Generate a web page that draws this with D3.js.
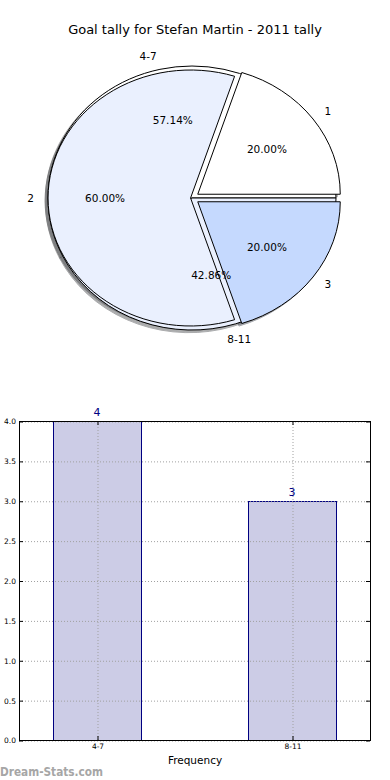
<!DOCTYPE html>
<html>
<head>
<meta charset="utf-8">
<script src="https://cdn.jsdelivr.net/npm/d3@7"></script>
<style>
  body { margin: 0; background: #fff; }
  svg text { font-family: "DejaVu Sans", sans-serif; }
</style>
</head>
<body>
<script>
var w = 390;
var h = 780;

// pie data: outer groups and the tally pie drawn on top
var groupLabels = ["4-7", "8-11"];
var groupValues = [4, 3];
var groupColors = ["#ffffff", "#eaf0fe"];

var tallyLabels = ["1", "2", "3"];
var tallyValues = [1, 3, 1];
var tallyColors = ["#ffffff", "#eaf0fe", "#c5d9fe"];
var tallyExplode = [0.05, 0.01, 0.05];

// bar data
var barCategories = ["4-7", "8-11"];
var barValues = [4, 3];
var yTicks = [0, 0.5, 1, 1.5, 2, 2.5, 3, 3.5, 4];

var svg = d3.select("body")
      .append("svg")
      .attr("width", w)
      .attr("height", h);

svg.append("text")
      .attr("x", 195)
      .attr("y", 34)
      .attr("text-anchor", "middle")
      .attr("font-size", 13)
      .text("Goal tally for Stefan Martin - 2011 tally");

// ---------- pies ----------
var pieLayout = d3.pie()
      .sort(null)
      .startAngle(Math.PI / 2)              // matplotlib starts at 3 o'clock
      .endAngle(Math.PI / 2 - 2 * Math.PI); // and goes counter-clockwise

var unitArc = d3.arc().innerRadius(0).outerRadius(1);

function shadeColor(c) {
      var col = d3.rgb(c);
      return d3.rgb(col.r * 0.3, col.g * 0.3, col.b * 0.3).toString();
}

function makePie(cfg) {
      var arcs = pieLayout(cfg.values);
      var total = d3.sum(cfg.values);
      arcs.forEach(function(d, i) {
            d.mid = (d.startAngle + d.endAngle) / 2;
            d.ux = Math.sin(d.mid);
            d.uy = -Math.cos(d.mid);
            var e = cfg.explode ? cfg.explode[i] : 0;
            d.cx = cfg.cx + e * cfg.rx * d.ux;
            d.cy = cfg.cy + e * cfg.ry * d.uy;
            d.label = cfg.labels[i];
            d.color = cfg.colors[i];
            d.pct = d3.format(".2%")(cfg.values[i] / total);
      });
      cfg.arcs = arcs;
      return cfg;
}

function drawShadows(cfg) {
      svg.append("g").selectAll("path")
            .data(cfg.arcs)
            .enter()
            .append("path")
            .attr("d", unitArc)
            .attr("transform", function(d) {
                  return "translate(" + (d.cx - 0.02 * cfg.rx) + "," + (d.cy + 0.02 * cfg.ry) + ") scale(" + cfg.rx + "," + cfg.ry + ")";
            })
            .attr("fill", function(d) { return shadeColor(d.color); })
            .attr("stroke", function(d) { return shadeColor(d.color); })
            .attr("stroke-width", 1)
            .attr("vector-effect", "non-scaling-stroke")
            .attr("opacity", 0.45);
}

function drawWedges(cfg) {
      svg.append("g").selectAll("path")
            .data(cfg.arcs)
            .enter()
            .append("path")
            .attr("d", unitArc)
            .attr("transform", function(d) {
                  return "translate(" + d.cx + "," + d.cy + ") scale(" + cfg.rx + "," + cfg.ry + ")";
            })
            .attr("fill", function(d) { return d.color; })
            .attr("stroke", "#000")
            .attr("stroke-width", 1)
            .attr("vector-effect", "non-scaling-stroke");
}

function drawLabels(cfg) {
      var g = svg.append("g").attr("font-size", 10.5);
      g.selectAll("text.lab")
            .data(cfg.arcs)
            .enter()
            .append("text")
            .attr("class", "lab")
            .attr("x", function(d) { return d.cx + 1.1 * cfg.rx * d.ux; })
            .attr("y", function(d) { return d.cy + 1.1 * cfg.ry * d.uy; })
            .attr("dy", "0.35em")
            .attr("text-anchor", function(d) { return d.ux > 0 ? "start" : "end"; })
            .text(function(d) { return d.label; });
      g.selectAll("text.pct")
            .data(cfg.arcs)
            .enter()
            .append("text")
            .attr("class", "pct")
            .attr("x", function(d) { return d.cx + 0.6 * cfg.rx * d.ux; })
            .attr("y", function(d) { return d.cy + 0.6 * cfg.ry * d.uy; })
            .attr("dy", "0.35em")
            .attr("text-anchor", "middle")
            .text(function(d) { return d.pct; });
}

var groupPie = makePie({ values: groupValues, labels: groupLabels, colors: groupColors,
      cx: 192, cy: 198, rx: 144, ry: 132 });
var tallyPie = makePie({ values: tallyValues, labels: tallyLabels, colors: tallyColors,
      explode: tallyExplode, cx: 192, cy: 198, rx: 142.5, ry: 128 });

// shadows sit beneath every wedge
drawShadows(groupPie);
drawShadows(tallyPie);
drawWedges(groupPie);
drawWedges(tallyPie);
drawLabels(groupPie);
drawLabels(tallyPie);

// ---------- bar chart ----------
var plotL = 19, plotR = 370, plotT = 421, plotB = 740;

var xScale = d3.scalePoint()
      .domain(barCategories)
      .range([plotL, plotR])
      .padding(0.4);

var yScale = d3.scaleLinear()
      .domain([0, 4])
      .range([plotB, plotT]);

var barW = xScale.step() * 0.45;
var navy = "#000080";

svg.append("g").selectAll("rect")
      .data(barValues)
      .enter()
      .append("rect")
      .attr("x", function(d, i) { return Math.round(xScale(barCategories[i]) - barW / 2) + 0.5; })
      .attr("y", function(d) { return Math.round(yScale(d)) + 0.5; })
      .attr("width", Math.round(barW))
      .attr("height", function(d) { return Math.round(plotB - yScale(d)); })
      .attr("fill", "rgba(0,0,128,0.2)")
      .attr("stroke", navy)
      .attr("stroke-width", 1);

// dotted grid
var gridY = svg.append("g")
      .attr("transform", "translate(" + plotL + ",0.5)")
      .call(d3.axisLeft(yScale).tickValues(yTicks).tickSize(-(plotR - plotL)).tickFormat(""));
var gridX = svg.append("g")
      .attr("transform", "translate(0.5," + plotB + ")")
      .call(d3.axisBottom(xScale).tickSize(-(plotB - plotT)).tickFormat(""));
[gridY, gridX].forEach(function(g) {
      g.select(".domain").remove();
      g.selectAll("line").attr("stroke", "#a0a0a0").attr("stroke-dasharray", "1,2");
});

// axes with inward ticks
var yAxis = svg.append("g")
      .attr("transform", "translate(" + plotL + ",0.5)")
      .call(d3.axisLeft(yScale).tickValues(yTicks).tickSize(-4).tickPadding(3).tickFormat(d3.format(".1f")));
var yAxisR = svg.append("g")
      .attr("transform", "translate(" + plotR + ",0.5)")
      .call(d3.axisRight(yScale).tickValues(yTicks).tickSize(-4).tickFormat(""));
var xAxis = svg.append("g")
      .attr("transform", "translate(0.5," + plotB + ")")
      .call(d3.axisBottom(xScale).tickSize(-4).tickPadding(4));
var xAxisT = svg.append("g")
      .attr("transform", "translate(0.5," + plotT + ")")
      .call(d3.axisTop(xScale).tickSize(-4).tickFormat(""));
[yAxis, yAxisR, xAxis, xAxisT].forEach(function(g) {
      g.select(".domain").remove();
      g.selectAll("text").attr("font-family", "DejaVu Sans").attr("font-size", 7.5).attr("fill", "#000");
});

svg.append("rect")
      .attr("x", plotL + 0.5)
      .attr("y", plotT + 0.5)
      .attr("width", plotR - plotL)
      .attr("height", plotB - plotT)
      .attr("fill", "none")
      .attr("stroke", "#000")
      .attr("stroke-width", 1);

// value labels
svg.append("g").selectAll("text")
      .data(barValues)
      .enter()
      .append("text")
      .attr("x", function(d, i) { return xScale(barCategories[i]); })
      .attr("y", function(d) { return yScale(d) - 5; })
      .attr("text-anchor", "middle")
      .attr("font-size", 11)
      .attr("fill", navy)
      .text(function(d) { return d; });

svg.append("text")
      .attr("x", 195)
      .attr("y", 764)
      .attr("text-anchor", "middle")
      .attr("font-size", 10.5)
      .text("Frequency");

svg.append("text")
      .attr("x", 0)
      .attr("y", 776)
      .attr("font-weight", "bold")
      .attr("font-size", 12)
      .attr("textLength", 103)
      .attr("lengthAdjust", "spacingAndGlyphs")
      .attr("fill", "#a6a6a6")
      .text("Dream-Stats.com");
</script>
</body>
</html>
